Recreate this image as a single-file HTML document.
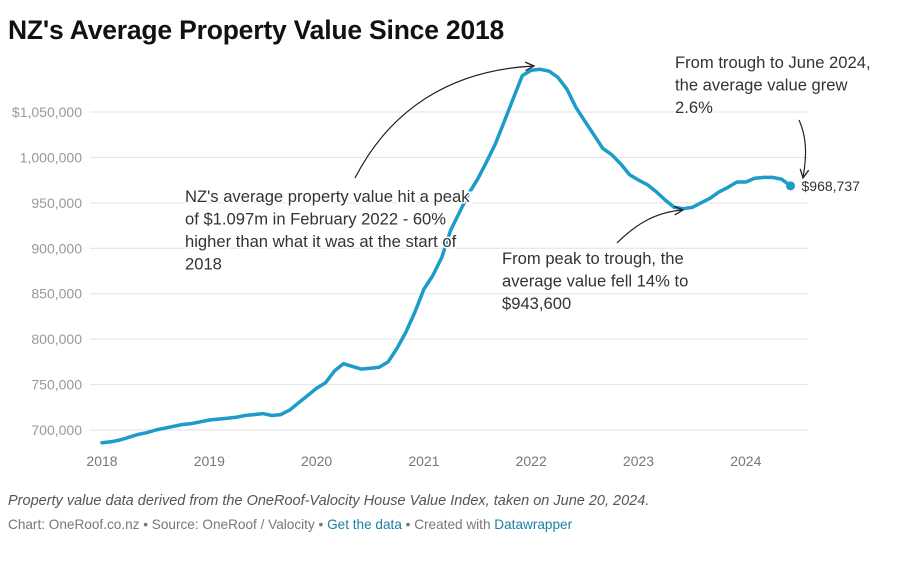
<!DOCTYPE html>
<html><head><meta charset="utf-8"><style>
body{margin:0;background:#fff;font-family:"Liberation Sans",Arial,sans-serif;}
#wrap{position:relative;width:898px;height:566px;overflow:hidden}
.title{position:absolute;left:8px;top:15px;font-size:26.5px;font-weight:bold;color:#111;letter-spacing:-0.2px}
.note{position:absolute;font-size:14.5px;color:#666}
svg text{font-family:"Liberation Sans",Arial,sans-serif}
</style></head><body>
<div id="wrap">
<div class="title">NZ's Average Property Value Since 2018</div>
<svg id="chart" width="898" height="490" style="position:absolute;left:0;top:0"></svg>
<div class="note" style="left:8px;top:493px;font-style:italic;color:#555">Property value data derived from the OneRoof-Valocity House Value Index, taken on June 20, 2024.</div>
<div class="note" style="left:8px;top:517px;font-size:13.6px;color:#777">Chart: OneRoof.co.nz • Source: OneRoof / Valocity • <span style="color:#1d81a2">Get the data</span> • Created with <span style="color:#1d81a2">Datawrapper</span></div>
</div>
<script>
const values = [
686,687,689,692,695,697,700,702,704,706,707,709,
711,712,713,714,716,717,718,716,717,722,730,738,
746,752,765,773,770,767,768,769,775,790,808,830,
855,870,890,920,940,960,976,995,1015,1040,1065,1090,
1096,1097,1095,1088,1075,1055,1040,1025,1010,1003,993,981,
975,970,962,953,945,943.6,945,950,955,962,967,973,
973,977,978,978,976,968.737];
const yTicks = [700000,750000,800000,850000,900000,950000,1000000,1050000];
const yLabels = ["700,000","750,000","800,000","850,000","900,000","950,000","1,000,000","$1,050,000"];
const xTicks = [2018,2019,2020,2021,2022,2023,2024];
const endLabel = "$968,737";

const NS="http://www.w3.org/2000/svg";
const svg=document.getElementById('chart');
function X(t){return 102+(t-2018)*107.3;}
function Y(v){return 430-(v-700000)*0.0009086;}
function el(tag,attrs){const e=document.createElementNS(NS,tag);for(const k in attrs)e.setAttribute(k,attrs[k]);svg.appendChild(e);return e;}

yTicks.forEach((v,i)=>{
  const g=el('line',{x1:90,x2:808,y1:Y(v),y2:Y(v),stroke:'#e2e2e2','stroke-width':1});
  
  
  const t=el('text',{x:82,y:Y(v)+5,'text-anchor':'end','font-size':14,fill:'#999'});
  t.textContent=yLabels[i];
  
  
});
xTicks.forEach(yr=>{
  const t=el('text',{x:X(yr),y:466,'text-anchor':'middle','font-size':14,fill:'#777'});
  t.textContent=yr;
  
  
});
const pts=values.map((v,i)=>[X(2018+i/12),Y(v*1000)]);
const line=el('path',{d:'M'+pts.map(p=>p[0].toFixed(1)+','+p[1].toFixed(1)).join('L'),fill:'none',stroke:'#1d9bc9','stroke-width':3.5,'stroke-linejoin':'round','stroke-linecap':'round'});


const last=pts[pts.length-1];
const dot=el('circle',{cx:last[0],cy:last[1],r:4.5,fill:'#1d9bc9'});


const lbl=el('text',{x:last[0]+11,y:last[1]+5,'font-size':14,fill:'#333'});
lbl.textContent=endLabel;



el('defs',{}).innerHTML='<marker id="ah" viewBox="0 0 10 10" refX="9" refY="5" markerWidth="9" markerHeight="9" orient="auto"><path d="M1,1L9,5L1,9" fill="none" stroke="#222" stroke-width="1.2"/></marker>';
[['M355,178 C390,110 450,70 534,66','peak-arrow'],['M617,243 C635,225 655,212 683,210','trough-arrow'],['M799,120 C808,140 806,160 803,178','recovery-arrow']].forEach(a=>{
  const p=el('path',{d:a[0],fill:'none',stroke:'#222','stroke-width':1.2,'marker-end':'url(#ah)'});
  
  
});
function note(lines,x,y,name){
  const t=el('text',{x:x,y:y,'font-size':16.6,fill:'#333',stroke:'#fff','stroke-width':3,'paint-order':'stroke'});
  lines.forEach((s,i)=>{const ts=document.createElementNS(NS,'tspan');ts.setAttribute('x',x);ts.setAttribute('dy',i?22.5:0);ts.textContent=s;t.appendChild(ts);});
  
  
}
note(["NZ's average property value hit a peak","of $1.097m in February 2022 - 60%","higher than what it was at the start of","2018"],185,202,'peak-annotation');
note(["From peak to trough, the","average value fell 14% to","$943,600"],502,264,'trough-annotation');
note(["From trough to June 2024,","the average value grew","2.6%"],675,68,'recovery-annotation');
</script>
</body></html>
